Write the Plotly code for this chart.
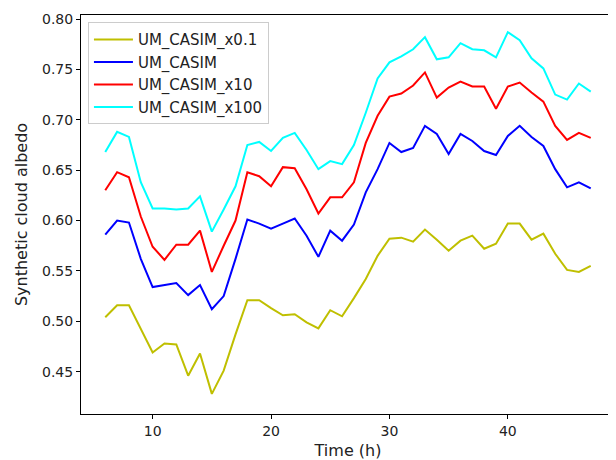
import plotly.graph_objects as go

hours = list(range(6, 48))

um_casim_x0_1 = [0.504, 0.516, 0.516, 0.493, 0.469, 0.478, 0.477, 0.446, 0.468, 0.428,
                 0.451, 0.487, 0.521, 0.521, 0.513, 0.506, 0.507, 0.499, 0.493, 0.511,
                 0.505, 0.523, 0.542, 0.565, 0.582, 0.583, 0.579, 0.591, 0.581, 0.570,
                 0.580, 0.585, 0.572, 0.577, 0.597, 0.597, 0.581, 0.587, 0.567, 0.551,
                 0.549, 0.555]
um_casim = [0.586, 0.600, 0.598, 0.562, 0.534, 0.536, 0.538, 0.526, 0.536, 0.512,
            0.525, 0.562, 0.601, 0.597, 0.592, 0.597, 0.602, 0.585, 0.564, 0.590,
            0.580, 0.596, 0.628, 0.651, 0.677, 0.668, 0.672, 0.694, 0.686, 0.666,
            0.686, 0.679, 0.669, 0.665, 0.684, 0.694, 0.683, 0.674, 0.651, 0.633,
            0.638, 0.632]
um_casim_x10 = [0.630, 0.648, 0.643, 0.604, 0.574, 0.561, 0.576, 0.576, 0.590, 0.549,
                0.575, 0.600, 0.648, 0.644, 0.634, 0.653, 0.652, 0.631, 0.607, 0.623,
                0.623, 0.638, 0.677, 0.704, 0.723, 0.726, 0.734, 0.747, 0.722, 0.732,
                0.738, 0.733, 0.733, 0.711, 0.733, 0.737, 0.727, 0.718, 0.694, 0.680,
                0.687, 0.682]
um_casim_x100 = [0.668, 0.688, 0.683, 0.638, 0.612, 0.612, 0.611, 0.612, 0.624, 0.589,
                 0.611, 0.634, 0.675, 0.678, 0.669, 0.682, 0.687, 0.670, 0.651, 0.659,
                 0.656, 0.675, 0.707, 0.741, 0.757, 0.763, 0.770, 0.782, 0.760, 0.762,
                 0.776, 0.770, 0.769, 0.762, 0.787, 0.779, 0.761, 0.751, 0.725, 0.720,
                 0.736, 0.728]

series = [
    ("UM_CASIM_x0.1", um_casim_x0_1, "#bfbf00"),
    ("UM_CASIM", um_casim, "#0000ff"),
    ("UM_CASIM_x10", um_casim_x10, "#ff0000"),
    ("UM_CASIM_x100", um_casim_x100, "#00ffff"),
]

fig = go.Figure()
for name, vals, color in series:
    fig.add_trace(go.Scatter(x=hours, y=vals, mode="lines", name=name,
                             line=dict(color=color, width=2)))

font = "DejaVu Sans, sans-serif"
fig.update_layout(
    width=608, height=452,
    margin=dict(l=73, r=1, t=7, b=46),
    paper_bgcolor="white", plot_bgcolor="white",
    font=dict(family=font, size=14, color="#222"),
    showlegend=True,
    legend=dict(x=0.013, y=0.982, xanchor="left", yanchor="top",
                bgcolor="rgba(255,255,255,0.8)", bordercolor="#cccccc", borderwidth=1,
                font=dict(size=15, family=font), itemwidth=39,
                tracegroupgap=0),
)
fig.update_xaxes(
    range=[3.95, 49.05], tickvals=[10, 20, 30, 40], showgrid=False, zeroline=False,
    showline=True, linecolor="black", linewidth=1, mirror=True, automargin=False,
    ticks="outside", ticklen=4, tickcolor="black",
    title=dict(text="Time (h)", font=dict(size=16, family=font)),
)
fig.update_yaxes(
    range=[0.408, 0.804], dtick=0.05, tick0=0.45, tickformat=".2f", showgrid=False, zeroline=False,
    showline=True, linecolor="black", linewidth=1, mirror=True, automargin=False,
    ticks="outside", ticklen=4, tickcolor="black",
    title=dict(text="Synthetic cloud albedo", font=dict(size=16, family=font), standoff=10),
)

fig.write_html("out.html")
